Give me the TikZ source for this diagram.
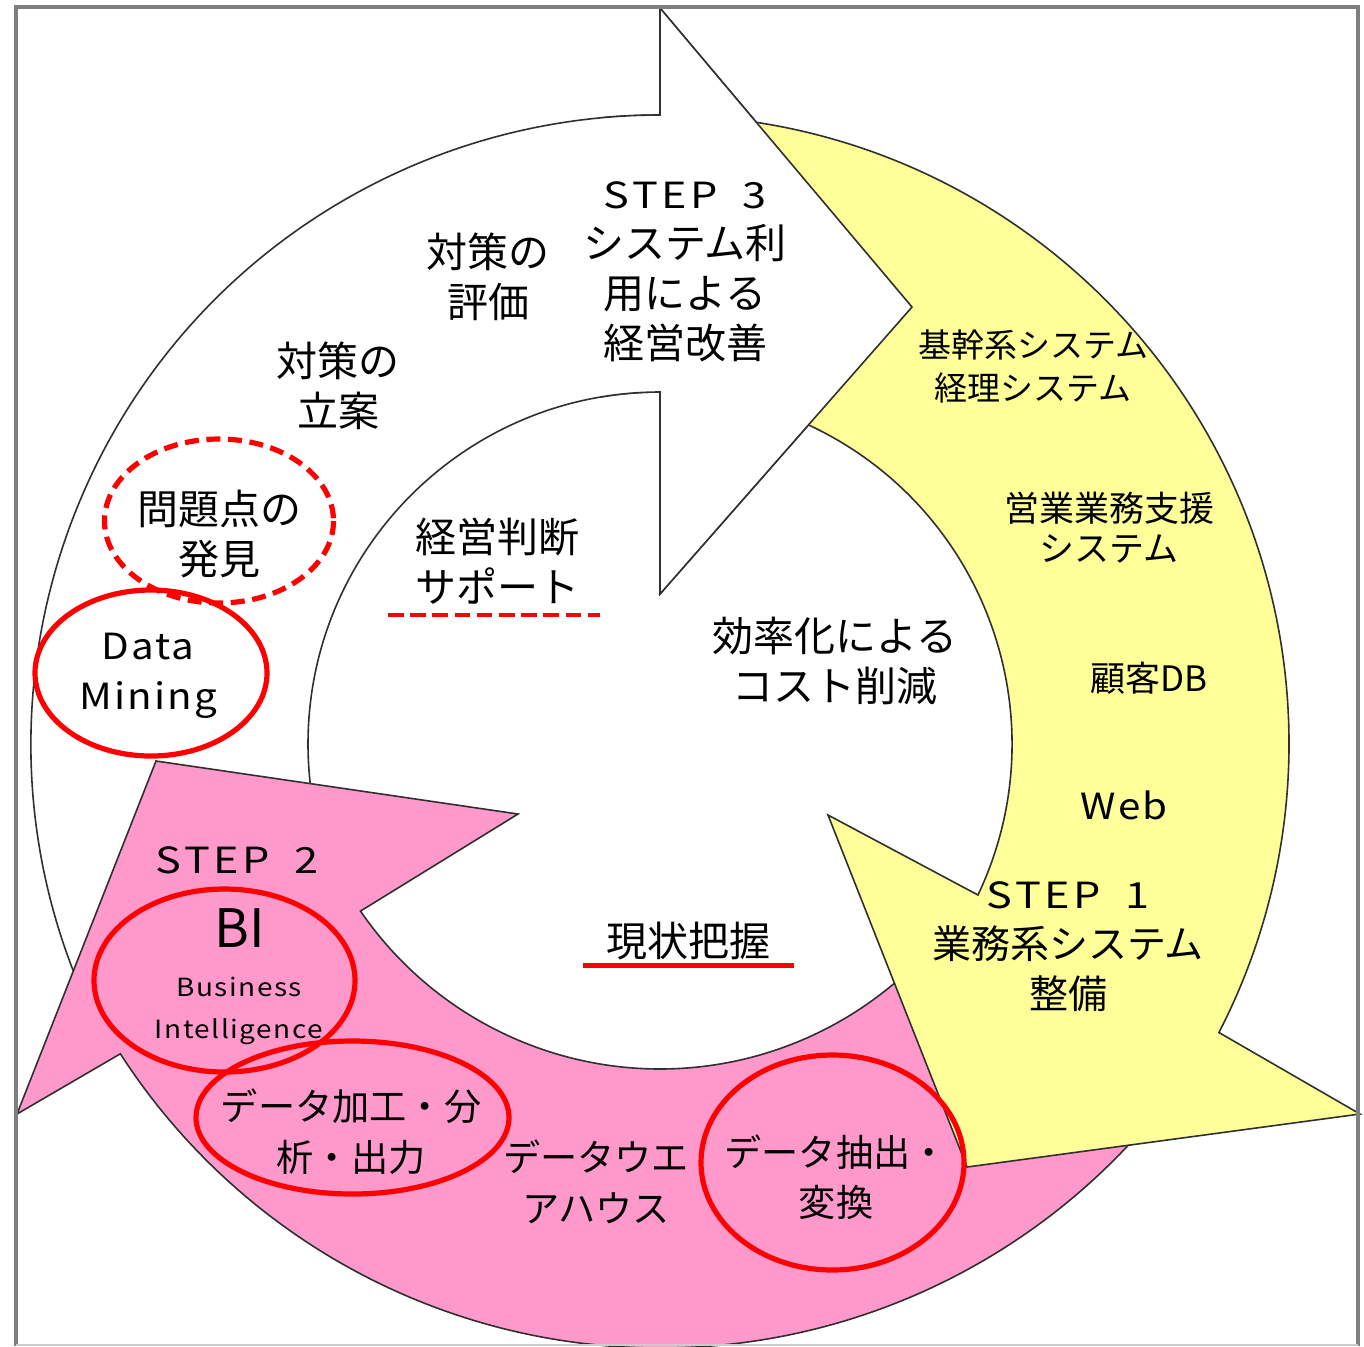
\documentclass[tikz,border=0pt]{standalone}
\usepackage{fontspec}
\setmainfont{Noto Sans CJK JP}
\newfontfamily\latw[FakeStretch=1.2,LetterSpace=10]{Noto Sans CJK JP}
\newfontfamily\latm[FakeStretch=1.12,LetterSpace=6]{Noto Sans CJK JP}
\usetikzlibrary{calc}
\definecolor{ylw}{HTML}{FFFF99}
\definecolor{pnk}{HTML}{FF99CC}
\definecolor{frm}{HTML}{7F7F7F}
\definecolor{edgec}{HTML}{303030}
\definecolor{redc}{HTML}{FF0000}
\begin{document}
\begin{tikzpicture}[x=0.5pt,y=-0.5pt,
  arr/.style={draw=edgec,line width=0.8pt,line join=miter},
  ring/.style={draw=redc,line width=2.6pt},
  dashring/.style={draw=redc,line width=2.6pt,dash pattern=on 7pt off 3.8pt},
  jt/.style={align=center,inner sep=0pt,font=\fontsize{20.5}{25}\selectfont},
  jsm/.style={align=center,inner sep=0pt,font=\fontsize{16.5}{21.5}\selectfont},
  jmd/.style={align=center,inner sep=0pt,font=\fontsize{17.5}{20}\selectfont},
  jdt/.style={align=center,inner sep=0pt,font=\fontsize{18.6}{25.5}\selectfont},
  stepfont/.style={font=\latw\fontsize{18}{25}\selectfont},
  lt/.style={align=center,inner sep=0pt,font=\latm\fontsize{18}{25}\selectfont}
]
\useasboundingbox (0,0) rectangle (1364,1346);
\fill[white] (0,0) rectangle (1364,1346);
\coordinate (cw) at (660,744);
\coordinate (cp) at (660,706);

% white arrow (STEP 3)
\path[arr,fill=white] ($(cw)+(153:629)$) arc[start angle=153,end angle=270,radius=629]
  -- (660,8) -- (912,307) -- (660,594) -- ($(cw)+(270:352)$)
  arc[start angle=270,end angle=153,radius=352] -- cycle;
% pink arrow (STEP 2)
\path[arr,fill=pnk] ($(cp)+(35:642)$) arc[start angle=35,end angle=147.2,radius=642]
  -- (17,1114) -- (156,761) -- (518,814) -- ($(cp)+(145.6:363)$)
  arc[start angle=145.6,end angle=35,radius=363] -- cycle;
% yellow arrow (STEP 1)
\path[arr,fill=ylw] ($(cw)+(-90:629)$) arc[start angle=-90,end angle=27.3,radius=629]
  -- (1360,1114) -- (967,1167) -- (828,815) -- ($(cw)+(25.4:352)$)
  arc[start angle=25.4,end angle=-90,radius=352] -- cycle;
% white arrow head again, over the yellow tail
\begin{scope}
\clip (600,-20) rectangle (1000,700);
\path[arr,fill=white] ($(cw)+(153:629)$) arc[start angle=153,end angle=270,radius=629]
  -- (660,8) -- (912,307) -- (660,594) -- ($(cw)+(270:352)$)
  arc[start angle=270,end angle=153,radius=352] -- cycle;
\end{scope}

% frame
\draw[frm,line width=2pt] (16,1346) -- (16,7) -- (1358,7) -- (1358,1346);
\draw[frm!40,line width=1pt] (16,1345) -- (1358,1345);

% texts
\node[jt] (t3) at (685,272) {{\latw\fontsize{18}{25}\selectfont STEP\hspace{12pt}3}\\システム利\\用による\\経営改善};
\node[jt] (teval) at (488,277) {対策の\\評価};
\node[jt] (tplan) at (338,386) {対策の\\立案};
\node[jt] (tprob) at (219,534) {問題点の\\発見};
\node[lt] (tdm) at (148,676) {Data\\Mining};
\node[jt] (tsup) at (497,561) {経営判断\\サポート};
\node[jt] (tcost) at (835,661) {効率化による\\コスト削減};
\node[jsm] (tcore) at (1033,366) {基幹系システム\\経理システム};
\node[jmd] (tsales) at (1109,528) {営業業務支援\\システム};
\node[jmd] (tdb) at (1149,678) {顧客DB};
\node[lt] (tweb) at (1124,805) {Web};
\node[jt,font=\fontsize{19.5}{25}\selectfont] (t1) at (1068,947) {{\latw\fontsize{18}{25}\selectfont STEP\hspace{12pt}1}\\業務系システム\\整備};
\node[stepfont,inner sep=0pt] (t2) at (237,860) {STEP\hspace{12pt}2};
\node[inner sep=0pt,font=\fontsize{26.5}{30}\selectfont] (tbi) at (240,928) {BI};
\node[align=center,inner sep=0pt,font=\latm\fontsize{12.5}{21}\selectfont] (tbus) at (239,1011) {Business\\Intelligence};
\node[jdt] (tproc) at (351,1132) {データ加工・分\\析・出力};
\node[jdt] (tdwh) at (596,1182) {データウエ\\アハウス};
\node[jdt,font=\fontsize{18.6}{25}\selectfont] (text) at (836,1177) {データ抽出・\\変換};
\node[jt] (tnow) at (688,941) {現状把握};

% red marks
\draw[dashring] (219,521) ellipse [x radius=114.5, y radius=82];
\draw[ring] (151,673) ellipse [x radius=116, y radius=83];
\draw[ring] (224.5,980.5) ellipse [x radius=130.5, y radius=91.5];
\draw[ring] (352.5,1117.5) ellipse [x radius=156.5, y radius=76.5];
\draw[ring] (832.5,1162.5) ellipse [x radius=131.5, y radius=107.5];
\draw[redc,line width=2.2pt,dash pattern=on 7.8pt off 3.3pt] (388,615) -- (600,615);
\draw[redc,line width=2.5pt] (583,965) -- (794,965);
\end{tikzpicture}
\end{document}
